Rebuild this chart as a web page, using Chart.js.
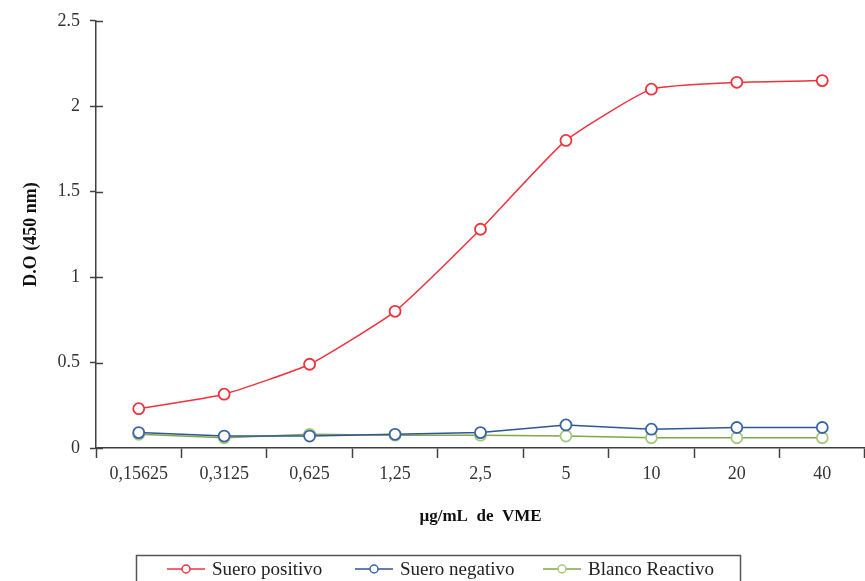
<!DOCTYPE html>
<html>
<head>
<meta charset="utf-8">
<script src="https://cdn.jsdelivr.net/npm/chart.js@4.4.0/dist/chart.umd.min.js"></script>
<style>
  html, body { margin: 0; padding: 0; background: #fff; }
  #wrap { width: 865px; height: 581px; position: relative; }
</style>
</head>
<body>
<div id="wrap"><canvas id="grafico"></canvas></div>
<script>
// datos
const concentraciones = ['0,15625', '0,3125', '0,625', '1,25', '2,5', '5', '10', '20', '40'];
const sueroPositivo = [0.23, 0.315, 0.49, 0.80, 1.28, 1.80, 2.10, 2.14, 2.15];
const sueroNegativo = [0.09, 0.07, 0.07, 0.08, 0.09, 0.135, 0.11, 0.12, 0.12];
const blancoReactivo = [0.08, 0.06, 0.08, 0.075, 0.075, 0.07, 0.06, 0.06, 0.06];
const ticksY = [0, 0.5, 1, 1.5, 2, 2.5];

const fuente = 'Liberation Serif, Times New Roman, serif';

// ticks que cruzan el eje y + leyenda con recuadro
const extras = {
    id: 'extras',
    afterDraw(chart) {
        const ctx = chart.ctx;
        const y = chart.scales.y;
        const x = chart.scales.x;
        ctx.save();
        ctx.strokeStyle = '#404040';
        ctx.lineWidth = 1.5;
        y.ticks.forEach((t, i) => {
            const py = Math.round(y.getPixelForTick(i)) + 0.5;
            ctx.beginPath();
            ctx.moveTo(x.left, py);
            ctx.lineTo(x.left + 7, py);
            ctx.stroke();
        });

        // leyenda
        ctx.lineWidth = 1.5;
        ctx.strokeStyle = '#555';
        ctx.strokeRect(136.5, 555.5, 604, 40);
        const items = [
            { x: 167, ds: chart.data.datasets[0] },
            { x: 355, ds: chart.data.datasets[1] },
            { x: 543, ds: chart.data.datasets[2] }
        ];
        const ly = 569;
        ctx.font = '19px ' + fuente;
        ctx.textBaseline = 'middle';
        items.forEach(it => {
            ctx.strokeStyle = it.ds.borderColor;
            ctx.lineWidth = 1.5;
            ctx.beginPath();
            ctx.moveTo(it.x, ly);
            ctx.lineTo(it.x + 38, ly);
            ctx.stroke();
            ctx.strokeStyle = it.ds.pointBorderColor;
            ctx.fillStyle = '#fff';
            ctx.beginPath();
            ctx.arc(it.x + 19, ly, 4, 0, Math.PI * 2);
            ctx.fill();
            ctx.stroke();
            ctx.fillStyle = '#222';
            ctx.fillText(it.ds.label, it.x + 45, ly + 1);
        });
        ctx.restore();
    }
};

const ctx = document.getElementById('grafico').getContext('2d');
new Chart(ctx, {
    type: 'line',
    data: {
        labels: concentraciones,
        datasets: [
            {
                label: 'Suero positivo',
                data: sueroPositivo,
                borderColor: '#f0323c',
                pointBorderColor: '#f0323c',
                pointBackgroundColor: '#fff',
                borderWidth: 1.5,
                pointRadius: 5.5,
                pointBorderWidth: 1.8,
                tension: 0.15
            },
            {
                label: 'Suero negativo',
                data: sueroNegativo,
                borderColor: '#2f5597',
                pointBorderColor: '#3a64a8',
                pointBackgroundColor: '#fff',
                borderWidth: 1.5,
                pointRadius: 5.5,
                pointBorderWidth: 1.8,
                tension: 0
            },
            {
                label: 'Blanco Reactivo',
                data: blancoReactivo,
                borderColor: '#7ea84a',
                pointBorderColor: '#a5c97a',
                pointBackgroundColor: '#fff',
                borderWidth: 1.5,
                pointRadius: 5.5,
                pointBorderWidth: 1.8,
                tension: 0
            }
        ]
    },
    options: {
        responsive: true,
        maintainAspectRatio: false,
        animation: false,
        layout: { autoPadding: false, padding: { top: 20, right: -9, bottom: 0, left: 0 } },
        plugins: {
            legend: { display: false },
            tooltip: { enabled: false }
        },
        scales: {
            x: {
                offset: true,
                grid: {
                    offset: true,
                    drawOnChartArea: false,
                    tickLength: 10,
                    tickWidth: 1.5,
                    tickColor: '#404040'
                },
                border: { color: '#404040', width: 1.5 },
                ticks: {
                    color: '#333',
                    padding: 5,
                    font: { family: fuente, size: 18 }
                },
                title: {
                    display: true,
                    text: 'µg/mL  de  VME',
                    color: '#111',
                    font: { family: fuente, size: 17, weight: 'bold' },
                    padding: { top: 0, bottom: 54 }
                },
                afterFit: s => {
                    s.height = 133;
                    s.paddingLeft = 0;
                    s.paddingRight = 0;
                }
            },
            y: {
                min: 0,
                max: 2.5,
                afterBuildTicks: s => { s.ticks = ticksY.map(v => ({ value: v })); },
                grid: {
                    drawOnChartArea: false,
                    tickLength: 6,
                    tickWidth: 1.5,
                    tickColor: '#404040'
                },
                border: { color: '#404040', width: 1.5 },
                ticks: {
                    color: '#333',
                    padding: 10,
                    font: { family: fuente, size: 18 },
                    callback: v => String(v)
                },
                title: {
                    display: true,
                    text: 'D.O (450 nm)',
                    color: '#111',
                    font: { family: fuente, size: 18, weight: 'bold' },
                    padding: { top: 21, bottom: 0 }
                },
                afterFit: s => { s.width = 96; }
            }
        }
    },
    plugins: [extras]
});
</script>
</body>
</html>
